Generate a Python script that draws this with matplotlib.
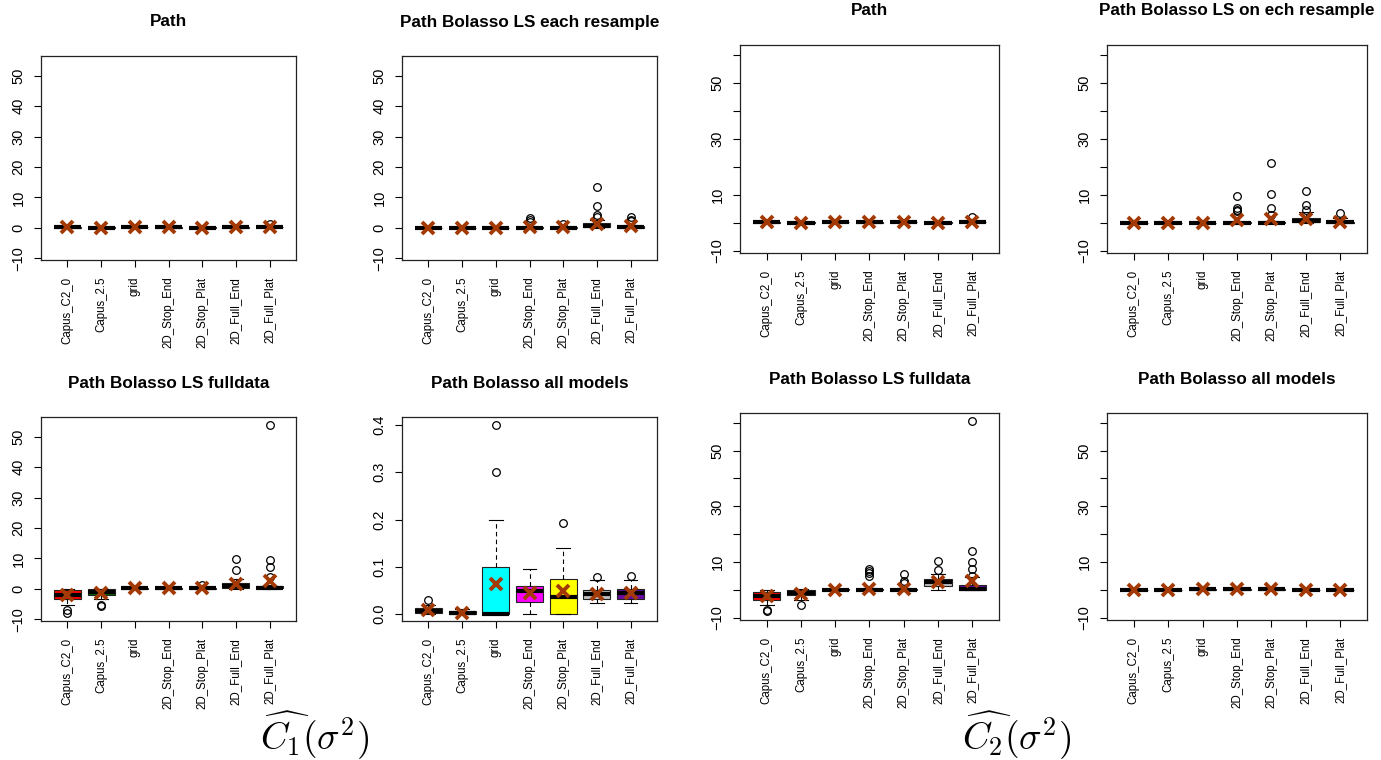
import matplotlib
matplotlib.use("Agg")
import matplotlib.pyplot as plt

plt.rcParams['font.family'] = ['Liberation Sans', 'DejaVu Sans']
plt.rcParams['mathtext.fontset'] = 'cm'

# categories and box colours
cats = ['Capus_C2_0', 'Capus_2.5', 'grid', '2D_Stop_End', '2D_Stop_Plat',
        '2D_Full_End', '2D_Full_Plat']
box_colors = ['red', '#006400', 'cyan', 'magenta', 'yellow', '#BEBEBE', '#6B0AA0']

# each row: [whislo, q1, med, q3, whishi, mean]
c1_path = [[-0.1, 0, 0.1, 0.2, 0.3, 0.1], [-0.1, 0, 0.05, 0.1, 0.2, 0.05],
           [0, 0.1, 0.2, 0.3, 0.5, 0.25], [-0.1, 0, 0.1, 0.2, 0.3, 0.1],
           [-0.1, 0, 0.05, 0.1, 0.2, 0.05], [-0.1, 0, 0.1, 0.2, 0.3, 0.1],
           [0, 0.1, 0.2, 0.3, 0.6, 0.3]]
c1_path_out = [[], [], [], [], [], [], [1.1]]

c1_resample = [[0, 0, 0, 0.05, 0.1, 0], [0, 0, 0, 0.05, 0.1, 0],
               [0, 0, 0, 0.05, 0.1, 0], [0, 0, 0, 0.1, 0.2, 0.2],
               [0, 0, 0, 0.1, 0.2, 0.1], [0, 0.1, 0.5, 1.5, 2.6, 1.2],
               [0, 0, 0.1, 0.5, 1.0, 0.5]]
c1_resample_out = [[], [], [], [2.0, 2.6, 3.2], [1.2], [3.7, 4.3, 7.0, 13.4],
                   [2.1, 2.6, 3.6]]

c1_fulldata = [[-5.3, -3.3, -2.0, -0.5, 0.0, -2.2], [-3.5, -2.0, -1.0, -0.2, 0.0, -1.3],
               [0, 0, 0.1, 0.2, 0.3, 0.1], [0, 0, 0.1, 0.2, 0.3, 0.1],
               [0, 0, 0.1, 0.2, 0.5, 0.2], [0, 0.3, 1.0, 1.8, 3.1, 1.5],
               [0, 0.2, 0.4, 0.8, 1.3, 2.7]]
c1_fulldata_out = [[-7.0, -7.9], [-5.3, -5.8], [], [], [1.4], [6.1, 9.9],
                   [4.0, 7.3, 9.5, 53.8]]

c1_all = [[0.0, 0.003, 0.006, 0.013, 0.02, 0.0085], [0.0, 0.001, 0.002, 0.006, 0.011, 0.003],
          [0.0, 0.0, 0.0, 0.1, 0.2, 0.064], [0.0, 0.026, 0.048, 0.06, 0.096, 0.045],
          [0.0, 0.0, 0.036, 0.075, 0.14, 0.048], [0.023, 0.031, 0.042, 0.051, 0.071, 0.043],
          [0.023, 0.032, 0.044, 0.052, 0.072, 0.044]]
c1_all_out = [[0.03], [], [0.3, 0.4], [], [0.193], [0.079], [0.080]]

c2_path = [[-0.1, 0, 0.1, 0.2, 0.3, 0.1], [-0.1, 0, 0.05, 0.1, 0.2, 0.05],
           [0, 0.1, 0.2, 0.3, 0.5, 0.2], [-0.1, 0, 0.1, 0.2, 0.3, 0.1],
           [0, 0.1, 0.2, 0.4, 0.6, 0.3], [-0.1, 0, 0.05, 0.1, 0.2, 0.05],
           [0, 0.1, 0.2, 0.3, 0.6, 0.4]]
c2_path_out = [[], [], [], [], [], [], [2.0]]

c2_resample = [[0, 0, 0, 0.05, 0.1, 0], [0, 0, 0, 0.05, 0.1, 0],
               [0, 0, 0, 0.05, 0.1, 0], [0, 0, 0, 0.2, 0.4, 0.9],
               [0, 0, 0, 0.3, 0.6, 1.5], [0, 0.1, 0.6, 1.8, 3.8, 1.3],
               [0, 0, 0.1, 0.4, 1.8, 0.3]]
c2_resample_out = [[], [], [], [4.2, 4.6, 5.3, 9.4], [2.8, 5.4, 10.2, 21.5],
                   [4.7, 6.3, 11.4], [3.6]]

c2_fulldata = [[-5.5, -3.5, -2.3, -0.7, -0.1, -2.3], [-3.6, -2.0, -1.1, 0.0, 0.2, -1.4],
               [0, 0, 0.1, 0.2, 0.4, 0.1], [0, 0, 0.1, 0.3, 0.6, 0.5],
               [0, 0, 0.1, 0.3, 0.6, 0.5], [0.1, 1.5, 2.9, 3.8, 5.6, 2.9],
               [0, 0.1, 0.3, 1.9, 4.5, 3.1]]
c2_fulldata_out = [[-7.1, -7.7], [-5.5], [], [5.1, 6.0, 6.7, 7.5], [2.4, 3.1, 5.7],
                   [7.0, 10.2], [5.1, 7.6, 9.9, 14.0, 60.5]]

c2_all = [[-0.1, 0, 0.05, 0.1, 0.2, 0.05], [-0.1, 0, 0.05, 0.1, 0.2, 0.05],
          [0, 0.1, 0.2, 0.3, 0.4, 0.2], [0, 0.1, 0.3, 0.4, 0.6, 0.3],
          [0, 0.1, 0.3, 0.4, 0.6, 0.3], [-0.1, 0, 0.05, 0.1, 0.2, 0.05],
          [-0.1, 0, 0.05, 0.1, 0.2, 0.05]]
c2_all_out = [[], [], [], [], [], [], []]

W, H = 1381, 760
fig = plt.figure(figsize=(W / 100, H / 100), dpi=100)


def panel(px, rows, outs, title, ylim, yticks, ylabels):
    l, t, r, b = px
    ax = fig.add_axes([l / W, 1 - b / H, (r - l) / W, (b - t) / H])
    stats = []
    for row, out, name in zip(rows, outs, cats):
        stats.append(dict(whislo=row[0], q1=row[1], med=row[2], q3=row[3],
                          whishi=row[4], mean=row[5], fliers=out, label=name))
    res = ax.bxp(stats, positions=range(1, 8), widths=0.8, patch_artist=True,
                 showmeans=True,
                 boxprops=dict(edgecolor='#222222', linewidth=0.8),
                 medianprops=dict(color='black', linewidth=3.0, solid_capstyle='butt'),
                 whiskerprops=dict(color='black', linewidth=0.8, linestyle=(0, (4, 3))),
                 capprops=dict(color='black', linewidth=0.8),
                 flierprops=dict(marker='o', markerfacecolor='none', markeredgecolor='black',
                                 markersize=5.5, markeredgewidth=0.9),
                 meanprops=dict(marker='x', markeredgecolor='#A33A05', markersize=8,
                                markeredgewidth=2.8))
    for patch, c in zip(res['boxes'], box_colors):
        patch.set_facecolor(c)
    for m in res['means']:
        m.set_zorder(5)
    ax.set_xlim(0.22, 7.78)
    ax.set_ylim(*ylim)
    ax.set_yticks(yticks)
    ax.set_yticklabels(ylabels, rotation=90, va='center', fontsize=10.5)
    ax.set_xticks(range(1, 8))
    ax.set_xticklabels(cats, rotation=90, fontsize=8.3)
    ax.tick_params(axis='both', direction='out', length=5, width=0.8, color='black')
    ax.tick_params(axis='y', pad=6)
    ax.tick_params(axis='x', pad=7)
    for s in ax.spines.values():
        s.set_linewidth(0.9)
        s.set_color('#222222')
    ax.annotate(title, xy=(0.5, 1), xycoords='axes fraction', xytext=(0, 34),
                textcoords='offset pixels', ha='center', va='center',
                fontsize=12.3, fontweight='bold')
    return ax


c1_ticks = [-10, 0, 10, 20, 30, 40, 50]
c1_labels = ['\u221210', '0', '10', '20', '30', '40', '50']
c2_ticks = [-10, 0, 10, 20, 30, 40, 50, 60]
c2_labels = ['\u221210', '', '10', '', '30', '', '50', '']
all_ticks = [0.0, 0.1, 0.2, 0.3, 0.4]
all_labels = ['0.0', '0.1', '0.2', '0.3', '0.4']

panel((41, 56, 296, 260), c1_path, c1_path_out, 'Path',
      (-10.6, 56.5), c1_ticks, c1_labels)
panel((402, 56, 657, 260), c1_resample, c1_resample_out, 'Path Bolasso LS each resample',
      (-10.6, 56.5), c1_ticks, c1_labels)
panel((41, 417, 296, 621), c1_fulldata, c1_fulldata_out, 'Path Bolasso LS fulldata',
      (-10.6, 56.5), c1_ticks, c1_labels)
panel((402, 417, 657, 621), c1_all, c1_all_out, 'Path Bolasso all models',
      (-0.0148, 0.417), all_ticks, all_labels)

panel((740, 45, 999, 253), c2_path, c2_path_out, 'Path',
      (-10.8, 63.5), c2_ticks, c2_labels)
panel((1107, 45, 1367, 253), c2_resample, c2_resample_out, 'Path Bolasso LS on ech resample',
      (-10.8, 63.5), c2_ticks, c2_labels)
panel((740, 413, 999, 620), c2_fulldata, c2_fulldata_out, 'Path Bolasso LS fulldata',
      (-10.8, 63.5), c2_ticks, c2_labels)
panel((1107, 413, 1367, 620), c2_all, c2_all_out, 'Path Bolasso all models',
      (-10.8, 63.5), c2_ticks, c2_labels)

fig.text(315 / W, 1 - 736 / H, r'$\widehat{C_1}(\sigma^2)$', ha='center', va='center', fontsize=27)
fig.text(1017 / W, 1 - 736 / H, r'$\widehat{C_2}(\sigma^2)$', ha='center', va='center', fontsize=27)

fig.savefig('out.png', dpi=100)
